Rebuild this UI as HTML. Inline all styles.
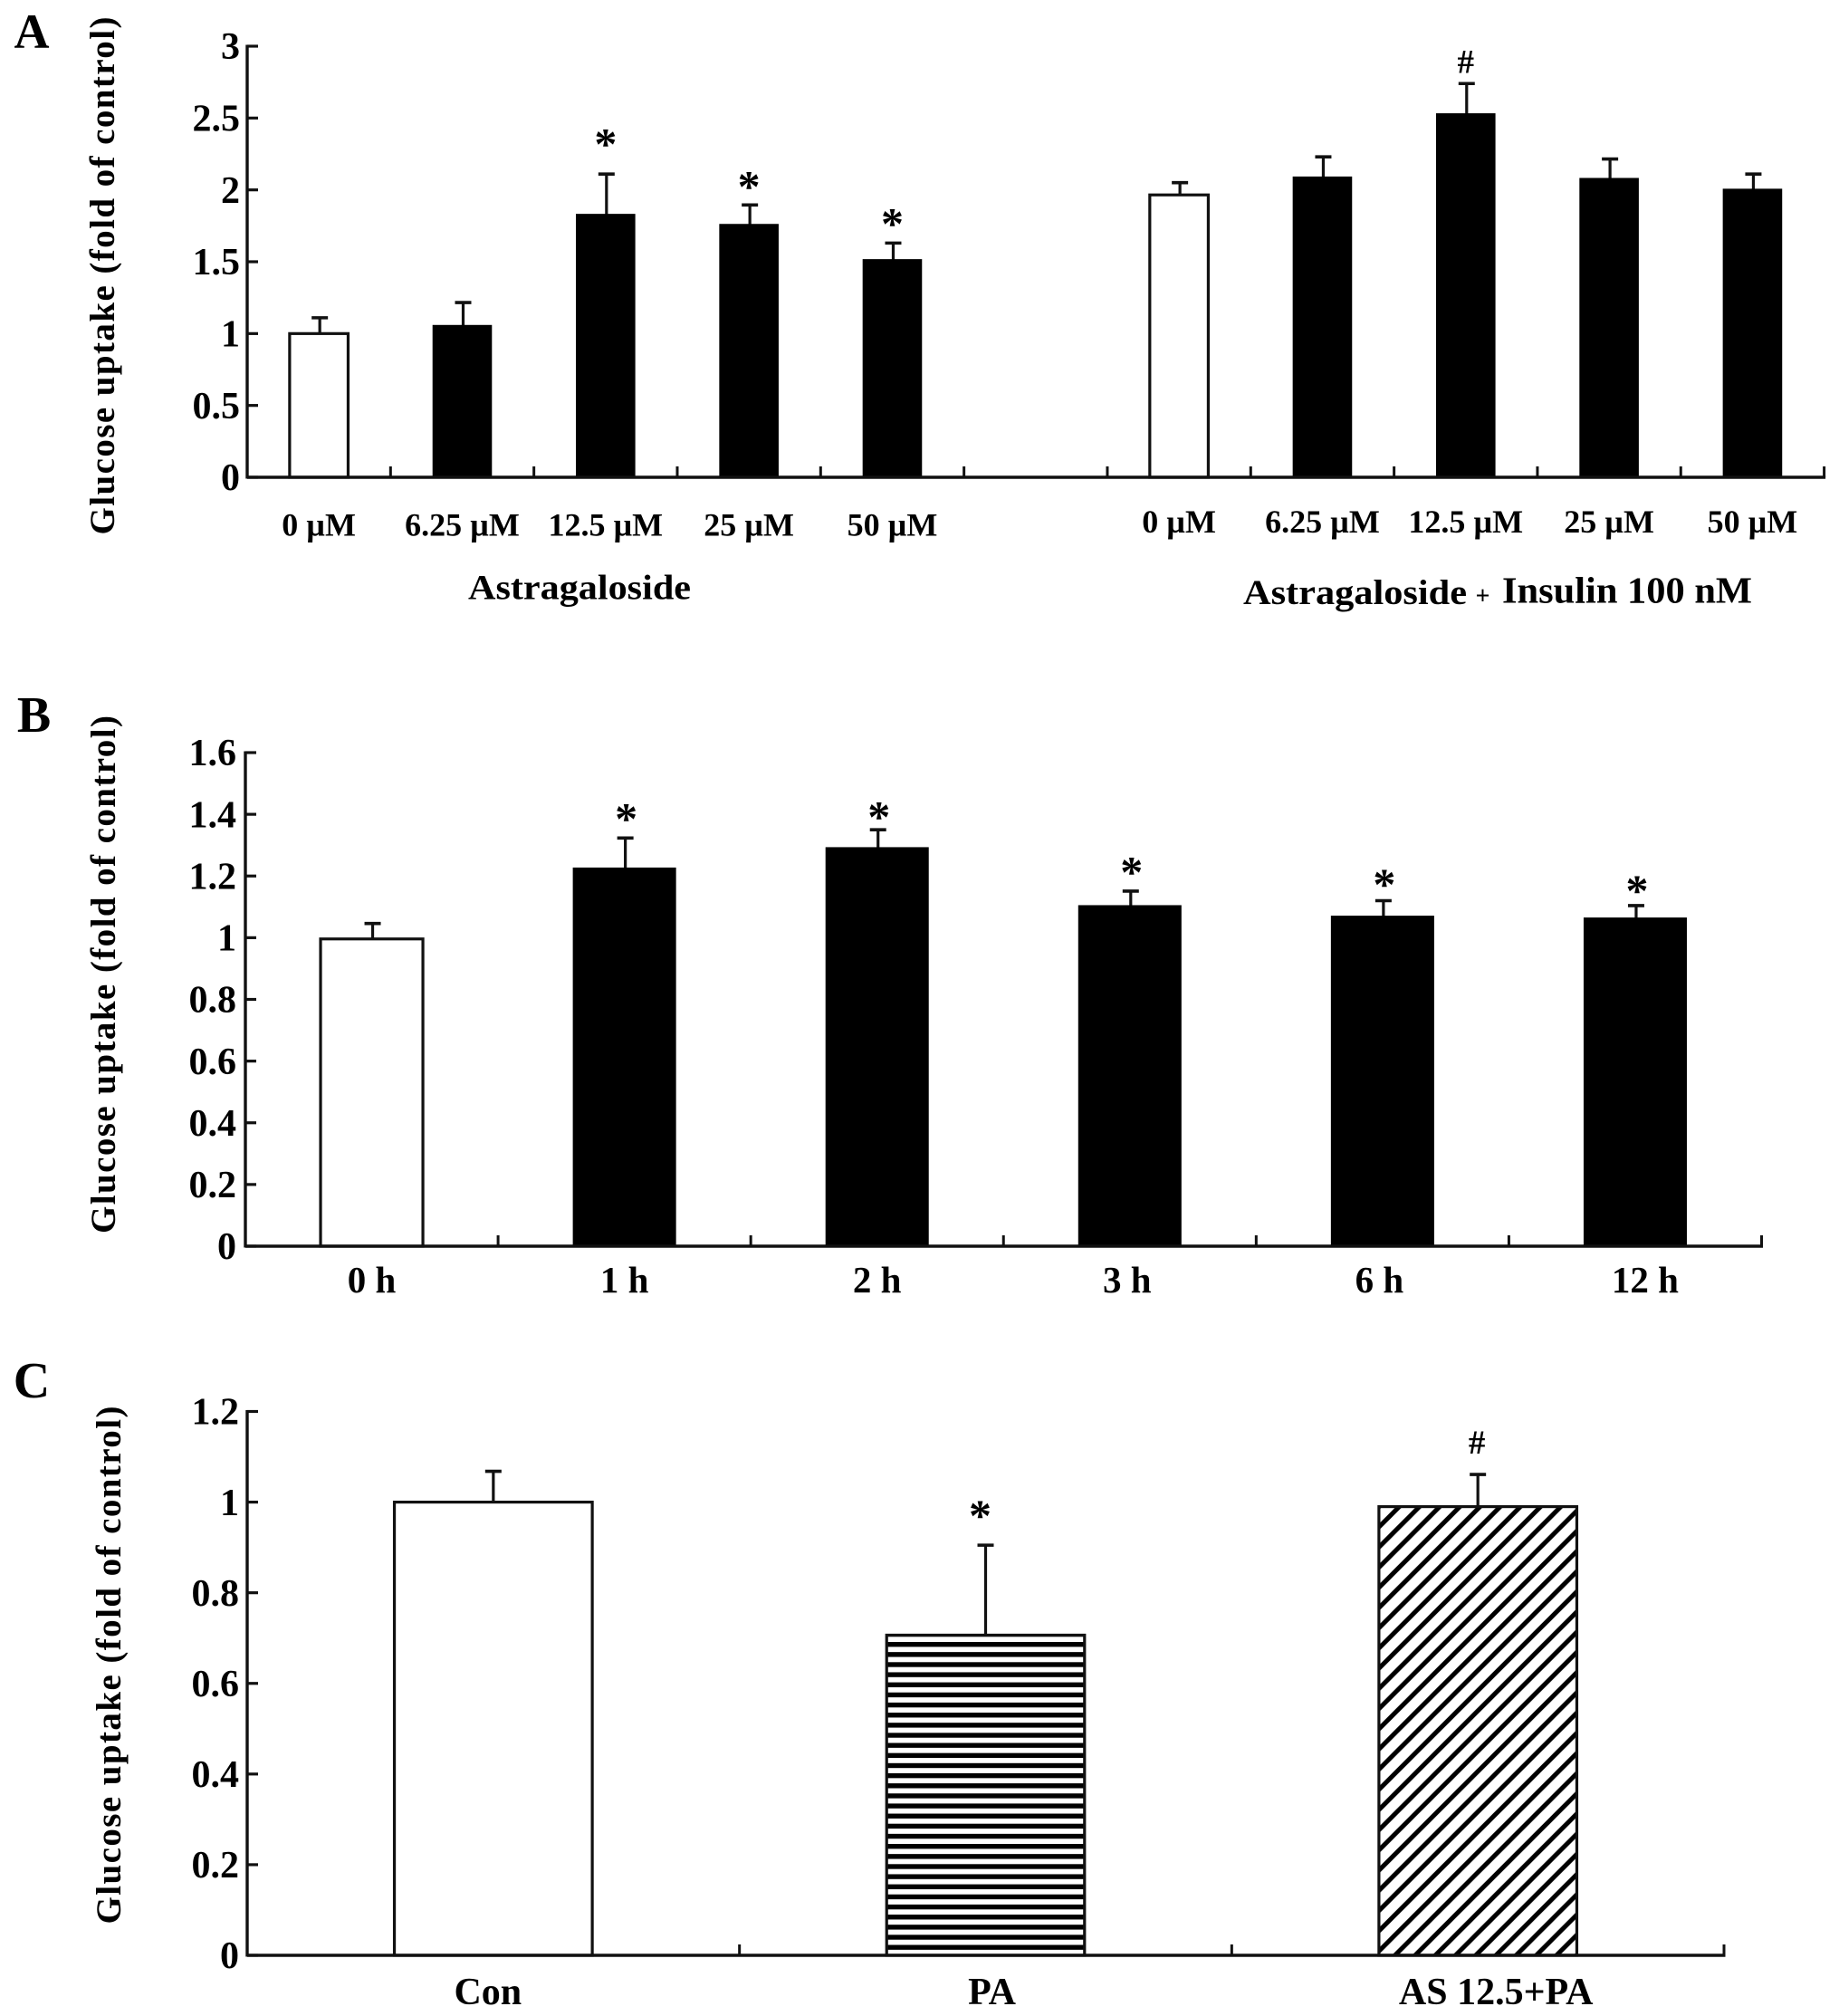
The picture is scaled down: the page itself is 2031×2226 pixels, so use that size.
<!DOCTYPE html>
<html lang="en">
<head>
<meta charset="utf-8">
<title>Glucose uptake bar charts</title>
<style>
html,body{margin:0;padding:0;background:#fff;}
#figure{display:block;width:2031px;height:2226px;background:#fff;}
text{font-family:"Liberation Serif",serif;font-weight:bold;fill:#000;}
</style>
</head>
<body>
<svg id="figure" xmlns="http://www.w3.org/2000/svg" width="2031" height="2226" viewBox="0 0 2031 2226">
  <defs>
    <pattern id="hatch-horizontal" patternUnits="userSpaceOnUse" x="0" y="1813" width="20" height="11.15">
      <rect x="0" y="0" width="20" height="5.4" fill="#000"></rect>
    </pattern>
    <pattern id="hatch-diagonal" patternUnits="userSpaceOnUse" x="20.1" y="0" width="22.3" height="22.3">
      <path d="M-5.6,27.9 L27.9,-5.6 M-5.6,5.6 L5.6,-5.6 M16.7,27.9 L27.9,16.7" stroke="#000" stroke-width="5" fill="none"></path>
    </pattern>
  </defs>
</svg>
<script>
// Panel A data
const panelACategories = ['0 µM', '6.25 µM', '12.5 µM', '25 µM', '50 µM', '', '0 µM', '6.25 µM', '12.5 µM', '25 µM', '50 µM'];
const panelAValues = [1.0, 1.057, 1.83, 1.76, 1.515, null, 1.965, 2.09, 2.53, 2.08, 2.005];
const panelAErrorTops = [1.11, 1.216, 2.11, 1.895, 1.63, null, 2.05, 2.23, 2.74, 2.215, 2.11];
const panelAFills = ['white', 'black', 'black', 'black', 'black', '', 'white', 'black', 'black', 'black', 'black'];
const panelAMarks = ['', '', '*', '*', '*', '', '', '', '#', '', ''];
const panelAMarkLevels = [0, 0, 2.37, 2.075, 1.815, 0, 0, 0, 2.893, 0, 0];
const panelATickValues = [0, 0.5, 1, 1.5, 2, 2.5, 3];
const panelATickLabels = ['0', '0.5', '1', '1.5', '2', '2.5', '3'];

// Panel B data
const panelBCategories = ['0 h', '1 h', '2 h', '3 h', '6 h', '12 h'];
const panelBValues = [0.996, 1.226, 1.292, 1.104, 1.07, 1.064];
const panelBErrorTops = [1.046, 1.323, 1.35, 1.151, 1.12, 1.104];
const panelBFills = ['white', 'black', 'black', 'black', 'black', 'black'];
const panelBMarks = ['', '*', '*', '*', '*', '*'];
const panelBMarkLevels = [0, 1.409, 1.415, 1.236, 1.196, 1.176];
const panelBTickValues = [0, 0.2, 0.4, 0.6, 0.8, 1, 1.2, 1.4, 1.6];
const panelBTickLabels = ['0', '0.2', '0.4', '0.6', '0.8', '1', '1.2', '1.4', '1.6'];

// Panel C data
const panelCCategories = ['Con', 'PA', 'AS 12.5+PA'];
const panelCValues = [1.0, 0.7065, 0.99];
const panelCErrorTops = [1.068, 0.905, 1.061];
const panelCFills = ['white', 'hatch-horizontal', 'hatch-diagonal'];
const panelCMarks = ['', '*', '#'];
const panelCMarkLevels = [0, 0.986, 1.132];
const panelCTickValues = [0, 0.2, 0.4, 0.6, 0.8, 1, 1.2];
const panelCTickLabels = ['0', '0.2', '0.4', '0.6', '0.8', '1', '1.2'];

const NS = 'http://www.w3.org/2000/svg';
const figure = document.getElementById('figure');
const INK = '#111';

function make(tag, attrs, parent) {
  const el = document.createElementNS(NS, tag);
  for (const key in attrs) el.setAttribute(key, attrs[key]);
  parent.appendChild(el);
  return el;
}

function line(x1, y1, x2, y2, width, parent) {
  return make('line', {x1: x1, y1: y1, x2: x2, y2: y2, stroke: INK, 'stroke-width': width}, parent);
}

function label(str, x, y, size, anchor, parent) {
  const el = make('text', {x: x, y: y, 'font-size': size, 'text-anchor': anchor}, parent);
  el.textContent = str;
  return el;
}

function drawPanel(p) {
  const group = make('g', {}, figure);
  
  

  const yScale = v => p.bottom - (v / p.yMax) * (p.bottom - p.top);
  const slot = (p.right - p.left) / p.categories.length;
  const xCenter = i => p.left + slot * (i + 0.5);
  const barWidth = slot * p.barRatio;

  // panel letter
  const letter = label(p.id, p.letterX, p.letterY, p.letterSize, 'middle', group);
  
  

  // y axis title
  const title = label('Glucose uptake (fold of control)', 0, 0, 39, 'middle', group);
  title.setAttribute('transform', 'translate(' + p.titleX + ',' + p.titleY + ') rotate(-90)');
  title.setAttribute('textLength', 572);
  title.setAttribute('lengthAdjust', 'spacing');
  
  

  // bars and error bars
  p.values.forEach((v, i) => {
    if (v === null) return;
    const cx = xCenter(i);
    const top = yScale(v);
    const ex = cx + p.errorShift;
    const et = yScale(p.errorTops[i]);

    const stem = line(ex, et, ex, top, 3.2, group);
    
    

    const cap = line(ex - 9, et, ex + 9, et, 3.6, group);
    
    

    const fillName = p.fills[i];
    const solid = fillName === 'white' || fillName === 'black';
    if (!solid) {
      const under = make('rect', {x: cx - barWidth / 2, y: top, width: barWidth, height: p.bottom - top, fill: '#fff'}, group);
      
      
    }
    const bar = make('rect', {
      x: cx - barWidth / 2, y: top, width: barWidth, height: p.bottom - top,
      fill: solid ? (fillName === 'white' ? '#fff' : '#000') : 'url(#' + fillName + ')',
      stroke: fillName === 'black' ? '#000' : INK,
      'stroke-width': fillName === 'black' ? 1 : 3.2
    }, group);
    
    

    if (p.marks[i]) {
      const isStar = p.marks[i] === '*';
      const size = isStar ? 50 : 37;
      const shift = isStar ? 0.49 * size : 0.34 * size;
      const markX = ex + (isStar ? p.starShift : -1);
      const mark = label(p.marks[i], markX, yScale(p.markLevels[i]) + shift, size, 'middle', group);
      
      
    }
  });

  // axes
  const yAxis = line(p.left, p.top - 1.5, p.left, p.bottom + 1.5, 3.4, group);
  
  

  const xAxis = line(p.left, p.bottom, p.right + 1.5, p.bottom, 3.6, group);
  
  

  p.tickValues.forEach((v, i) => {
    const y = yScale(v);
    const tick = line(p.left, y, p.left + 12, y, 3.2, group);
    
    

    const text = label(p.tickLabels[i], p.tickLabelRight, y + 14.2, 42, 'end', group);
    
    
  });

  p.categories.forEach((name, i) => {
    const tx = p.left + slot * (i + 1);
    const tick = line(tx, p.bottom, tx, p.bottom - 12, 3, group);
    
    

    if (name) {
      const base = typeof p.catBaseline === 'function' ? p.catBaseline(i) : p.catBaseline;
      const nudge = p.catNudge ? p.catNudge[i] : 0;
      const text = label(name, xCenter(i) + nudge, base, p.catSize, 'middle', group);
      
      
    }
  });
}

drawPanel({
  id: 'A', categories: panelACategories, values: panelAValues, errorTops: panelAErrorTops,
  fills: panelAFills, marks: panelAMarks, markLevels: panelAMarkLevels,
  tickValues: panelATickValues, tickLabels: panelATickLabels,
  yMax: 3, left: 273, right: 2014.6, top: 51, bottom: 527, errorShift: 1, barRatio: 0.408, starShift: -1,
  letterX: 35, letterY: 53, letterSize: 54, titleX: 126, titleY: 304.5,
  tickLabelRight: 265, catSize: 36, catBaseline: i => (i < 6 ? 591.7 : 588)
});

drawPanel({
  id: 'B', categories: panelBCategories, values: panelBValues, errorTops: panelBErrorTops,
  fills: panelBFills, marks: panelBMarks, markLevels: panelBMarkLevels,
  tickValues: panelBTickValues, tickLabels: panelBTickLabels,
  yMax: 1.6, left: 271, right: 1945.5, top: 831, bottom: 1376, errorShift: 1, barRatio: 0.405, starShift: 1,
  letterX: 37.5, letterY: 808, letterSize: 56, titleX: 127, titleY: 1076,
  tickLabelRight: 261, catSize: 41, catBaseline: 1427, catNudge: [0, 0, 0, -3, -3.5, 11]
});

drawPanel({
  id: 'C', categories: panelCCategories, values: panelCValues, errorTops: panelCErrorTops,
  fills: panelCFills, marks: panelCMarks, markLevels: panelCMarkLevels,
  tickValues: panelCTickValues, tickLabels: panelCTickLabels,
  yMax: 1.2, left: 273, right: 1904, top: 1558.5, bottom: 2159, errorShift: 0, barRatio: 0.402, starShift: -6,
  letterX: 35, letterY: 1543, letterSize: 56, titleX: 133, titleY: 1838.5,
  tickLabelRight: 264, catSize: 42, catBaseline: 2213, catNudge: [-6, 7, 20]
});

// group captions of panel A
const captionLeft = label('Astragaloside', 640, 661.5, 39, 'middle', figure);
captionLeft.setAttribute('textLength', 246);
captionLeft.setAttribute('lengthAdjust', 'spacingAndGlyphs');



const captionRight = label('Astragaloside', 1496.5, 667, 39, 'middle', figure);
captionRight.setAttribute('textLength', 247);
captionRight.setAttribute('lengthAdjust', 'spacingAndGlyphs');



const captionPlus = label('+', 1637.5, 667, 28, 'middle', figure);



const captionInsulin = label('Insulin 100 nM', 1797, 665.5, 41, 'middle', figure);
captionInsulin.setAttribute('textLength', 276);
captionInsulin.setAttribute('lengthAdjust', 'spacingAndGlyphs');


</script>
</body>
</html>
